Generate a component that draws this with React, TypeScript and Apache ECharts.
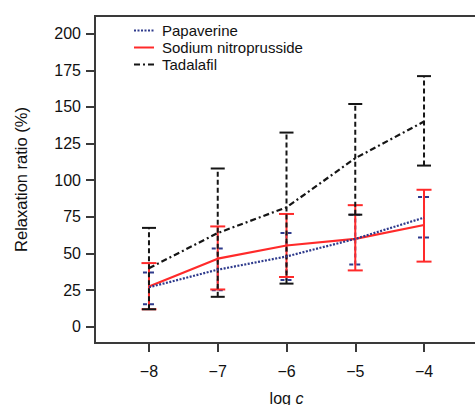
import React, { useEffect, useRef } from "react";
import * as echarts from "echarts";

const xValues = [-8, -7, -6, -5, -4];
const xTicks = [-8, -7, -6, -5, -4];
const yTicks = [0, 25, 50, 75, 100, 125, 150, 175, 200];

const papMean = [27, 39, 48, 60, 74.5];
const papLow = [15.5, 25, 32, 42.5, 61];
const papHigh = [37, 53.5, 64, 76.5, 88.5];

const snpMean = [27.5, 46.5, 55.5, 60, 69.5];
const snpLow = [12, 25.5, 34, 38.5, 44.5];
const snpHigh = [43.5, 68.5, 77, 83, 93.5];

const tadMean = [40, 64, 81.5, 115, 140];
const tadLow = [12, 20.5, 29.5, 76.5, 110];
const tadHigh = [67.5, 108, 132.5, 152, 171];

const BLUE = "#2e3a8c";
const RED = "#ff2a2a";
const BLACK = "#151515";
const FONT = "Liberation Sans, Arial, sans-serif";

function errSeries(low: number[], high: number[], color: string, capW: number, barDash: any, capDash: any, z: number) {
  return {
    type: "custom",
    silent: true,
    z,
    data: xValues.map((x, i) => [x, low[i], high[i]]),
    encode: { x: 0, y: [1, 2] },
    renderItem: (params: any, api: any) => {
      const x = api.value(0);
      const lo = api.coord([x, api.value(1)]);
      const hi = api.coord([x, api.value(2)]);
      const h = capW / 2;
      const st = { stroke: color, lineWidth: 2, lineDash: barDash };
      const cs = { stroke: color, lineWidth: 2, lineDash: capDash };
      return {
        type: "group",
        children: [
          { type: "line", shape: { x1: lo[0], y1: lo[1], x2: hi[0], y2: hi[1] }, style: st },
          { type: "line", shape: { x1: lo[0] - h, y1: lo[1], x2: lo[0] + h, y2: lo[1] }, style: cs },
          { type: "line", shape: { x1: hi[0] - h, y1: hi[1], x2: hi[0] + h, y2: hi[1] }, style: cs },
        ],
      };
    },
  };
}

export default function App() {
  const ref = useRef<HTMLDivElement>(null);
  useEffect(() => {
    if (!ref.current) return;
    const chart = echarts.init(ref.current, null, { renderer: "svg" });
    chart.setOption({
      animation: false,
      backgroundColor: "#ffffff",
      textStyle: { fontFamily: FONT },
      grid: {
        left: 95,
        top: 16,
        width: 383,
        height: 327,
        containLabel: false,
        outerBoundsMode: "none",
        show: true,
        borderColor: "#3a3a3a",
        borderWidth: 2,
        backgroundColor: "transparent",
      },
      legend: {
        orient: "vertical",
        left: 133,
        top: 23,
        padding: 0,
        itemWidth: 20,
        itemHeight: 14,
        itemGap: 2,
        itemStyle: { opacity: 0 },
        textStyle: { fontSize: 15, lineHeight: 15, color: "#111", fontFamily: FONT, padding: [0, 0, 0, 3] },
        data: ["Papaverine", "Sodium nitroprusside", "Tadalafil"],
      },
      xAxis: {
        type: "value",
        min: -8.785,
        max: -3.215,
        splitLine: { show: false },
        axisLine: { show: true, onZero: false, lineStyle: { color: "#3a3a3a", width: 2 } },
        axisTick: { show: true, inside: false, length: 9, customValues: xTicks, lineStyle: { color: "#3a3a3a", width: 2 } },
        axisLabel: {
          customValues: xTicks,
          fontSize: 16,
          color: "#111",
          margin: 20,
          fontFamily: FONT,
          formatter: (v: number) => String(v).replace("-", "\u2212"),
        },
        name: "log {i|c}",
        nameLocation: "middle",
        nameGap: 47,
        nameTextStyle: {
          fontSize: 16,
          color: "#111",
          fontFamily: FONT,
          rich: { i: { fontStyle: "italic", fontSize: 16, fontFamily: FONT, color: "#111" } },
        },
      },
      yAxis: {
        type: "value",
        min: -11,
        max: 212,
        splitLine: { show: false },
        axisLine: { show: true, onZero: false, lineStyle: { color: "#3a3a3a", width: 2 } },
        axisTick: { show: true, inside: false, length: 9, customValues: yTicks, lineStyle: { color: "#3a3a3a", width: 2 } },
        axisLabel: { customValues: yTicks, fontSize: 16, color: "#111", margin: 14, fontFamily: FONT },
        name: "Relaxation ratio (%)",
        nameLocation: "middle",
        nameGap: 66,
        nameTextStyle: { fontSize: 16.5, color: "#111", fontFamily: FONT },
      },
      series: [
        errSeries(papLow, papHigh, BLUE, 12, [4, 3], [4, 3], 2),
        errSeries(snpLow, snpHigh, RED, 15, null, null, 3),
        errSeries(tadLow, tadHigh, BLACK, 14, [5, 3], null, 4),
        {
          type: "line",
          name: "Papaverine",
          z: 6,
          data: xValues.map((x, i) => [x, papMean[i]]),
          symbol: "none",
          lineStyle: { color: BLUE, width: 2.2, type: [2, 1.5] },
          itemStyle: { color: BLUE },
        },
        {
          type: "line",
          name: "Sodium nitroprusside",
          z: 5,
          data: xValues.map((x, i) => [x, snpMean[i]]),
          symbol: "none",
          lineStyle: { color: RED, width: 2.2, type: "solid" },
          itemStyle: { color: RED },
        },
        {
          type: "line",
          name: "Tadalafil",
          z: 7,
          data: xValues.map((x, i) => [x, tadMean[i]]),
          symbol: "none",
          lineStyle: { color: BLACK, width: 2.2, type: [6, 3, 2, 3] },
          itemStyle: { color: BLACK },
        },
      ],
    });
    return () => chart.dispose();
  }, []);
  return <div ref={ref} style={{ width: 475, height: 405, position: "absolute", left: 0, top: 0 }} />;
}
